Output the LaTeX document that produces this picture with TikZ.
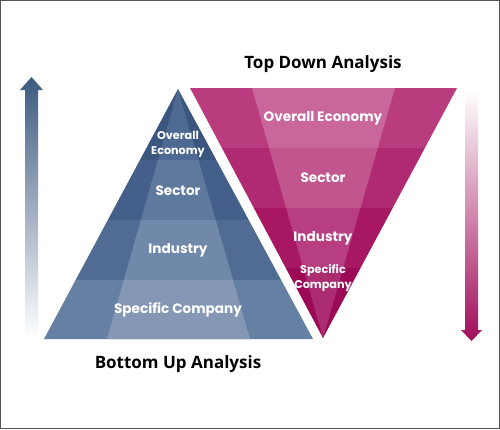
\documentclass[tikz,border=0pt]{standalone}
\usepackage{fontspec}
\setmainfont{Open Sans}
\newfontfamily\lblfont{Poppins}
\usetikzlibrary{positioning}

\definecolor{upblue}{HTML}{3D5A80}
\definecolor{downmag}{HTML}{A10D5C}
\definecolor{framegray}{HTML}{555555}

\tikzset{
  lbl/.style={text=white,font=\lblfont\bfseries\fontsize{13.6}{15}\selectfont,align=center,inner sep=0pt},
  small lbl/.style={lbl,font=\lblfont\bfseries\fontsize{11.2}{15}\selectfont},
  heading/.style={font=\bfseries\fontsize{17}{20}\selectfont,inner sep=0pt}
}

\begin{document}
\begin{tikzpicture}[x=1pt,y=-1pt]
  \useasboundingbox (0,0) rectangle (500,429);

  % bottom up pyramid
  \coordinate (up apex) at (178,89);
  \coordinate (up left) at (44,339);
  \coordinate (up right) at (313,339);
  \begin{scope}
    \clip (up apex) -- (up left) -- (up right) -- cycle;
    \foreach \ya/\yb/\co in {89/160/3A567E, 160/220/44608A, 220/280/516C92, 280/340/6680A3}
      {\definecolor{band}{HTML}{\co}\fill[band] (0,\ya) rectangle (500,\yb);}
    \clip (up apex) -- (107,339) -- (250,339) -- cycle;
    \foreach \ya/\yb/\co in {89/160/4E6A93, 160/220/5F799E, 220/280/7088AA, 280/340/8498B6}
      {\definecolor{band}{HTML}{\co}\fill[band] (0,\ya) rectangle (500,\yb);}
  \end{scope}

  % top down funnel
  \coordinate (down left) at (190,88);
  \coordinate (down right) at (457,88);
  \coordinate (down apex) at (323,338);
  \begin{scope}
    \clip (down left) -- (down right) -- (down apex) -- cycle;
    \foreach \ya/\yb/\co in {87/148/B83C7E, 148/208/B02A72, 208/268/A71762, 268/339/9C0A56}
      {\definecolor{band}{HTML}{\co}\fill[band] (0,\ya) rectangle (500,\yb);}
    \clip (252,88) -- (395,88) -- (down apex) -- cycle;
    \foreach \ya/\yb/\co in {87/148/C9669C, 148/208/C1568F, 208/268/B73E80, 268/339/AC2C72}
      {\definecolor{band}{HTML}{\co}\fill[band] (0,\ya) rectangle (500,\yb);}
  \end{scope}

  % arrows
  \shade[top color=upblue,bottom color=white]
    (25,338) -- (25,90) -- (20,90) -- (31.5,77) -- (43,90) -- (38,90) -- (38,338) -- cycle;
  \shade[top color=white,bottom color=downmag]
    (465,90) -- (465,330) -- (461,330) -- (471.5,341) -- (482,330) -- (478,330) -- (478,90) -- cycle;

  \node[small lbl] (up economy) at (178,144) {Overall\\Economy};
  \node[lbl] (up sector) at (178,191) {Sector};
  \node[lbl] (up industry) at (178,250) {Industry};
  \node[lbl] (up company) at (178,310) {Specific Company};

  \node[lbl] (down economy) at (323,118) {Overall Economy};
  \node[lbl] (down sector) at (323,178) {Sector};
  \node[lbl] (down industry) at (323,238) {Industry};
  \node[small lbl] (down company) at (323,278) {Specific\\Company};

  \node[heading] (top down) at (323,64) {Top Down Analysis};
  \node[heading] (bottom up) at (178,364) {Bottom Up Analysis};

  \draw[framegray,line width=1pt] (0.5,0.5) rectangle (499.5,428.5);
\end{tikzpicture}
\end{document}
